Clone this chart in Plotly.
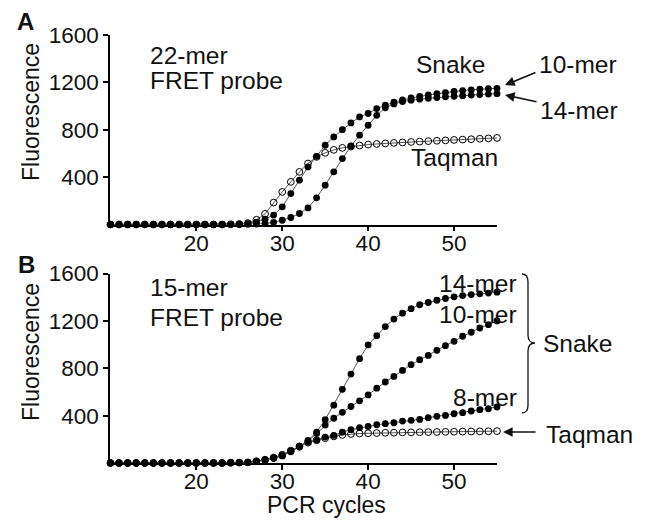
import plotly.graph_objects as go

cycles = list(range(10, 56))

# Panel A (22-mer FRET probe)
a_taqman = [0,0,0,0,0,0,0,0,0,0,0,0,0,0,2,4,
            12,40,90,185,275,360,444,515,571,605,630,647,658,667,675,680,685,689,693,697,
            700,704,707,710,714,717,720,724,727,731]
a_10mer = [0,0,0,0,0,0,0,0,0,0,0,0,0,0,2,3,
           8,20,45,80,149,261,374,486,576,669,739,801,858,908,937,979,1007,1032,1052,1068,
           1082,1094,1104,1114,1124,1131,1137,1142,1146,1150]
a_14mer = [0,0,0,0,0,0,0,0,0,0,0,0,0,0,0,0,2,4,
           8,18,36,59,93,140,225,332,445,557,663,754,838,922,985,1018,1038,1050,
           1058,1066,1072,1078,1083,1088,1093,1097,1101,1105]

# Panel B (15-mer FRET probe)
b_taqman = [0,0,0,0,0,0,0,0,0,0,0,0,0,0,2,3,
            5,15,28,45,70,105,140,172,192,210,225,237,245,249,251,253,255,256,258,259,
            260,261,262,263,264,265,266,267,268,269]
b_14mer = [0,0,0,0,0,0,0,0,0,0,0,0,0,0,2,3,
           5,14,26,42,62,98,140,190,261,366,488,622,751,881,997,1075,1152,1215,1265,1303,
           1336,1355,1374,1389,1403,1414,1422,1428,1435,1442]
b_10mer = [0,0,0,0,0,0,0,0,0,0,0,0,0,0,2,3,
           4,13,25,40,60,95,135,185,250,320,378,428,477,525,575,632,684,731,782,830,
           872,908,951,991,1027,1070,1104,1140,1168,1200]
b_8mer = [0,0,0,0,0,0,0,0,0,0,0,0,0,0,2,3,
          5,15,27,43,65,100,140,176,196,219,233,261,281,298,309,323,332,340,354,360,
          368,383,394,402,416,425,439,450,458,473]

y_ticks = [400, 800, 1200, 1600]
x_ticks = [20, 30, 40, 50]

FONT = "Liberation Sans, Arial, Helvetica, sans-serif"
OFF = 8  # page body margin
W, H = 645 - OFF, 520 - OFF
# plot area in page pixels
X0, X1 = 110, 497
Y_TOP, Y_BOT = 35, 463
ML, MR = X0 - OFF, W - (X1 - OFF)
MT, MB = Y_TOP - OFF, H - (Y_BOT - OFF)
PW, PH = W - ML - MR, H - MT - MB


def px(x):
    return (x - X0) / PW


def py(y):
    return (Y_BOT - y) / PH


fig = go.Figure()

line_style = dict(color="#444", width=0.9)
filled = dict(symbol="circle", size=6.8, color="#000", line=dict(width=0))
hollow = dict(symbol="circle-open", size=6.8, color="#000", line=dict(width=1))


def add(y, xa, ya, marker):
    fig.add_trace(go.Scatter(x=cycles, y=y, xaxis=xa, yaxis=ya, mode="lines+markers",
                             line=line_style, marker=marker, cliponaxis=False,
                             showlegend=False))


add(a_taqman, "x", "y", hollow)
add(a_14mer, "x", "y", filled)
add(a_10mer, "x", "y", filled)
add(b_taqman, "x2", "y2", hollow)
add(b_8mer, "x2", "y2", filled)
add(b_10mer, "x2", "y2", filled)
add(b_14mer, "x2", "y2", filled)

ax_common = dict(showline=True, linecolor="#000", linewidth=1.5, ticks="outside",
                 ticklen=5, tickwidth=1.5, tickcolor="#000", showgrid=False,
                 zeroline=False, tickfont=dict(family=FONT, size=22.5, color="#111"))

top_dom = [py(224.5), 1]
bot_dom = [0, py(273.5)]

fig.update_layout(
    width=W, height=H,
    margin=dict(l=ML, r=MR, t=MT, b=MB),
    paper_bgcolor="white", plot_bgcolor="white",
    xaxis=dict(domain=[0, 1], anchor="y", range=[9.95, 55.0], tickvals=x_ticks,
               ticklabelstandoff=-7, **ax_common),
    yaxis=dict(domain=top_dom, anchor="x", range=[0, 1600], tickvals=y_ticks, **ax_common),
    xaxis2=dict(domain=[0, 1], anchor="y2", range=[9.95, 55.0], tickvals=x_ticks,
                ticklabelstandoff=-8, **ax_common),
    yaxis2=dict(domain=bot_dom, anchor="x2", range=[0, 1600], tickvals=y_ticks, **ax_common),
)

anns = []


def text(t, x, y, size=24.5, xanchor="center", bold=False, angle=0):
    anns.append(dict(text=("<b>%s</b>" % t) if bold else t, x=px(x), y=py(y),
                     xref="paper", yref="paper", xanchor=xanchor, yanchor="middle",
                     showarrow=False, textangle=angle,
                     font=dict(family=FONT, size=size, color="#111")))


def arrow(tail, tip):
    anns.append(dict(text="", x=px(tip[0]), y=py(tip[1]), xref="paper", yref="paper",
                     ax=tail[0] - tip[0], ay=tail[1] - tip[1], showarrow=True,
                     arrowhead=2, arrowsize=1.2, arrowwidth=1.6, arrowcolor="#111",
                     standoff=0))


text("A", 25, 22, size=24, bold=True)
text("B", 26, 264, size=24, bold=True)
text("Fluorescence", 31, 112, size=23, angle=-90)
text("Fluorescence", 31, 352, size=23, angle=-90)
text("22-mer", 148, 55, xanchor="left")
text("FRET probe", 148, 80, xanchor="left")
text("Snake", 450, 65)
text("10-mer", 537, 64, xanchor="left")
text("14-mer", 538, 110, xanchor="left")
text("Taqman", 454, 157)
text("15-mer", 148, 287, xanchor="left")
text("FRET probe", 148, 317, xanchor="left")
text("14-mer", 478, 283)
text("10-mer", 478, 314)
text("8-mer", 485, 397)
text("Snake", 577, 343)
text("Taqman", 589, 434)
text("PCR cycles", 326, 505, size=23)

arrow((537, 72), (505, 85))
arrow((538, 102), (505, 95))
arrow((537, 432), (503, 432))

fig.update_layout(annotations=anns)

# curly brace
pts = [(522, 274), (528, 274), (528, 282), (528, 335), (528, 343), (535, 343),
       (528, 343), (528, 351), (528, 405), (528, 413), (522, 413)]
P = ["%.5f,%.5f" % (px(a), py(b)) for a, b in pts]
path = ("M %s Q %s %s L %s Q %s %s Q %s %s L %s Q %s %s" % tuple(P))
fig.add_shape(type="path", path=path, xref="paper", yref="paper",
              line=dict(color="#111", width=1.3))

fig.write_html("out.html")
